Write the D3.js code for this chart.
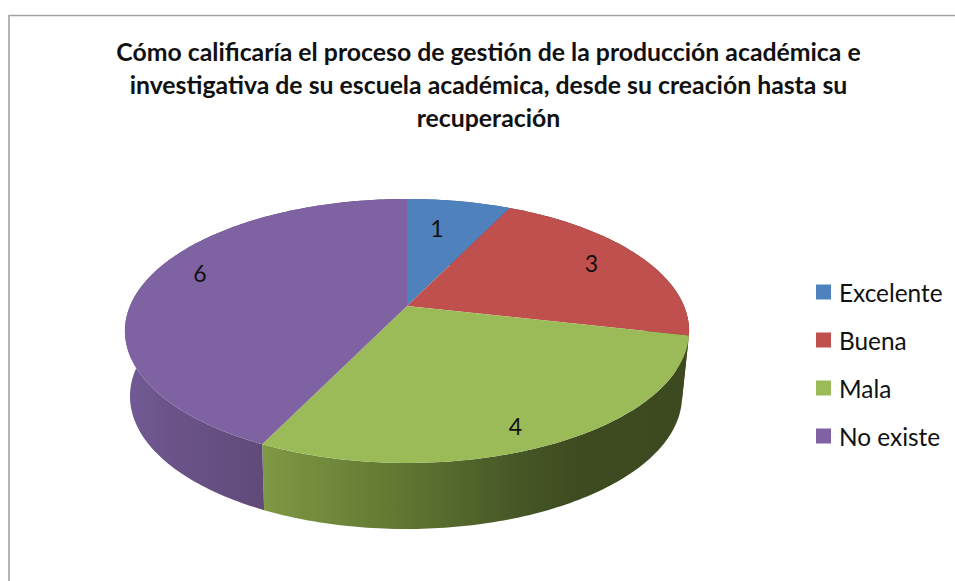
<!DOCTYPE html>
<html>
<head>
<meta charset="utf-8">
<script src="https://cdn.jsdelivr.net/npm/d3@7"></script>
<style>
  html, body { margin: 0; padding: 0; background: #fff; }
  svg { display: block; }
  text { font-family: Lato, "Open Sans", sans-serif; fill: #111; }
</style>
</head>
<body>
<script>
const categories = ["Excelente", "Buena", "Mala", "No existe"]
const values = [1, 3, 4, 6]
const titleLines = [
    "Cómo calificaría el proceso de gestión de la producción académica e",
    "investigativa de su escuela académica, desde su creación hasta su",
    "recuperación"
]

const width = 955
const height = 581
const colors = d3.scaleOrdinal(categories, ["#4f81bd", "#c0504d", "#9bbb59", "#7f62a1"])

// top and bottom discs of the pie, both seen in perspective
const topDisc = { cx: 407, cy: 306, rx: 277, ry: 127.3, k: 0.189 }
const bottomDisc = { cx: 406, cy: 371, rx: 271, ry: 128, k: 0.19 }

function project(disc, angle, r = 1) {
    let u = Math.sin(angle) * r
    let v = -Math.cos(angle) * r
    let w = 1 - disc.k * v
    return [disc.cx + disc.rx * u / w, disc.cy + disc.ry * v / w]
}

function arcPoints(disc, a0, a1) {
    let n = Math.max(2, Math.ceil((a1 - a0) * 60))
    return d3.range(n + 1).map(i => project(disc, a0 + (a1 - a0) * i / n))
}

const line = d3.line()
const slices = d3.pie().sort(null).value(d => d)(values)

const svg = d3.select("body").append("svg")
    .attr("width", width)
    .attr("height", height)

svg.append("rect").attr("width", width).attr("height", height).attr("fill", "#fff")

// chart frame, cut off by the right and bottom edges of the picture
svg.append("path")
    .attr("d", line([[9, height], [9, 15.5], [width, 15.5]]))
    .attr("fill", "none")
    .attr("stroke", "#a3a3a3")
    .attr("stroke-width", 1.6)

// wall shading
const defs = svg.append("defs")
const wallStops = [
    ["wall0", [[0, "#3d5d86"], [1, "#3d5d86"]]],
    ["wall1", [[0, "#5a2a28"], [1, "#5a2a28"]]],
    ["wall2", [[0, "#7f9945"], [0.3, "#627a32"], [0.6, "#465726"], [0.75, "#3e4a20"], [1, "#3d4a1f"]]],
    ["wall3", [[0, "#725a95"], [0.35, "#6b5389"], [1, "#5f4a79"]]]
]
const wallRange = [[407, 689], [509, 689], [262, 689], [125, 266]]
wallStops.forEach((w, i) => {
    let grad = defs.append("linearGradient")
        .attr("id", w[0])
        .attr("gradientUnits", "userSpaceOnUse")
        .attr("x1", wallRange[i][0]).attr("x2", wallRange[i][1])
        .attr("y1", 0).attr("y2", 0)
    grad.selectAll("stop").data(w[1]).enter().append("stop")
        .attr("offset", d => d[0])
        .attr("stop-color", d => d[1])
})

svg.selectAll("path.wall")
    .data(slices)
    .enter()
    .append("path")
    .attr("class", "wall")
    .attr("fill", (d, i) => "url(#wall" + i + ")")
    .attr("d", d => line(arcPoints(topDisc, d.startAngle, d.endAngle)
        .concat(arcPoints(bottomDisc, d.startAngle, d.endAngle).reverse())) + "Z")

svg.selectAll("path.slice")
    .data(slices)
    .enter()
    .append("path")
    .attr("class", "slice")
    .attr("fill", (d, i) => colors(categories[i]))
    .attr("d", d => line([[topDisc.cx, topDisc.cy]]
        .concat(arcPoints(topDisc, d.startAngle, d.endAngle))) + "Z")

// Excel does not put the labels on the mid angle, so they get nudged
const labelNudge = [[-13, 8.5], [-3, -1.5], [-3, 14], [2, -11]]
svg.selectAll("text.value")
    .data(slices)
    .enter()
    .append("text")
    .attr("class", "value")
    .attr("text-anchor", "middle")
    .attr("dominant-baseline", "central")
    .attr("font-size", 23)
    .attr("x", (d, i) => project(topDisc, (d.startAngle + d.endAngle) / 2, 0.8)[0] + labelNudge[i][0])
    .attr("y", (d, i) => project(topDisc, (d.startAngle + d.endAngle) / 2, 0.8)[1] + labelNudge[i][1])
    .text(d => d.value)

// title
svg.selectAll("text.title")
    .data(titleLines)
    .enter()
    .append("text")
    .attr("class", "title")
    .attr("text-anchor", "middle")
    .attr("font-size", 24.8)
    .attr("font-weight", 700)
    .attr("x", 488.5)
    .attr("y", (d, i) => 61 + i * 33)
    .text(d => d)

// legend
const legendY = d3.scalePoint().domain(categories).range([292, 436])
const legend = svg.selectAll("g.legend")
    .data(categories)
    .enter()
    .append("g")
    .attr("class", "legend")
    .attr("transform", d => "translate(816," + legendY(d) + ")")

legend.append("rect")
    .attr("y", -7.5)
    .attr("width", 15)
    .attr("height", 15)
    .attr("fill", d => colors(d))

legend.append("text")
    .attr("x", 23)
    .attr("dominant-baseline", "central")
    .attr("font-size", 24.4)
    .text(d => d)
</script>
</body>
</html>
